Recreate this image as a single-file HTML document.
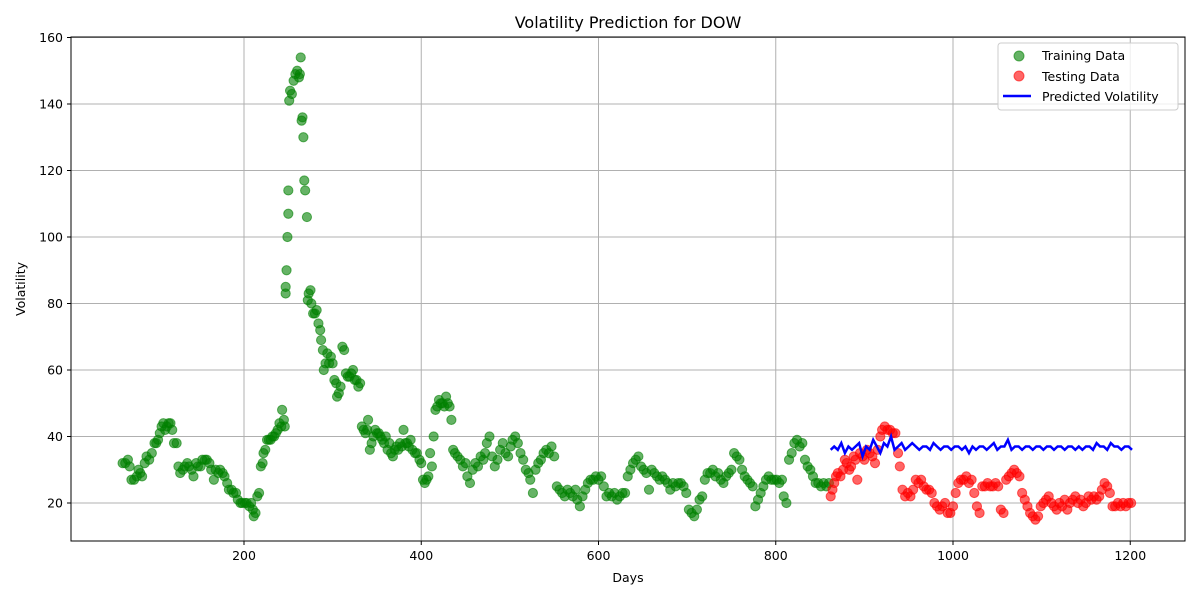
<!DOCTYPE html>
<html><head><meta charset="utf-8"><style>
body{margin:0;background:#fff;}
svg text{font-family:"DejaVu Sans","Liberation Sans",sans-serif;}
</style></head><body>
<svg id="chart" width="1200" height="600" xmlns="http://www.w3.org/2000/svg">
<rect width="1200" height="600" fill="#fff"/>
<g id="grid"></g>
<g id="marks"></g>
<rect x="71" y="37" width="1114" height="504" fill="none" stroke="#000" stroke-width="1"/>
<g id="ticks"></g>
<text x="628" y="28" font-size="16" text-anchor="middle">Volatility Prediction for DOW</text>
<text x="628" y="582" font-size="12.5" text-anchor="middle">Days</text>
<text transform="translate(25,289) rotate(-90)" font-size="12.5" text-anchor="middle">Volatility</text>
<g>
<rect x="998" y="43" width="180" height="67" rx="3" fill="#fff" fill-opacity="0.8" stroke="#ccc"/>
<circle cx="1019" cy="56" r="5" fill="green" fill-opacity="0.6" stroke="green" stroke-opacity="0.6"/>
<text x="1042" y="60" font-size="12.5">Training Data</text>
<circle cx="1019" cy="76" r="5" fill="red" fill-opacity="0.6" stroke="red" stroke-opacity="0.6"/>
<text x="1042" y="81" font-size="12.5">Testing Data</text>
<line x1="1003" y1="96" x2="1031" y2="96" stroke="blue" stroke-width="2.5"/>
<text x="1042" y="101" font-size="12.5">Predicted Volatility</text>
</g>
</svg>
<script>
const xTicks=[200,400,600,800,1000,1200];
const yTicks=[20,40,60,80,100,120,140,160];
const trainDays=[63,66,69,71,73,76,79,81,83,85,88,90,93,96,99,101,103,105,107,109,111,113,115,117,119,121,124,126,128,131,133,136,138,141,143,146,148,151,153,156,158,161,163,166,168,171,173,176,178,181,183,186,188,191,193,196,198,201,203,206,208,210,211,213,215,217,219,221,222,224,226,228,230,232,234,236,238,240,242,243,245,246,247,247,248,249,250,250,251,252,254,256,258,260,262,263,264,265,266,267,268,269,271,272,273,275,276,278,280,282,284,286,287,289,290,292,294,296,298,300,302,304,305,307,309,311,313,315,317,319,321,323,325,327,329,331,333,335,337,339,340,342,344,346,348,350,352,354,356,358,360,362,364,366,368,370,372,374,376,378,380,382,384,386,388,390,393,395,398,400,402,404,406,408,410,412,414,416,418,420,422,424,426,428,430,432,434,436,438,441,444,447,450,452,455,458,461,464,467,470,472,474,477,480,483,486,489,492,495,498,501,503,506,509,512,515,518,521,523,526,529,532,535,538,541,544,547,550,553,556,559,562,565,568,571,574,576,579,582,585,588,591,594,597,600,603,606,609,612,615,618,621,624,627,630,633,636,639,642,645,648,651,654,657,660,663,666,669,672,675,678,681,684,687,690,693,696,699,702,705,708,711,714,717,720,723,726,729,732,735,738,741,744,747,750,753,756,759,762,765,768,771,774,777,780,783,786,789,792,795,798,801,804,807,809,812,815,818,821,824,827,830,833,836,839,842,845,848,851,854,857,860];
const trainVals=[32,32,33,31,27,27,28,30,29,28,32,34,33,35,38,38,39,41,43,44,42,43,44,44,42,38,38,31,29,30,31,32,31,30,28,32,31,31,33,33,33,32,30,27,30,29,30,29,28,26,24,24,23,23,21,20,20,20,20,19,20,18,16,17,22,23,31,32,35,36,39,39,39,40,40,41,42,44,43,48,45,43,83,85,90,100,107,114,141,144,143,147,149,150,148,149,154,135,136,130,117,114,106,81,83,84,80,77,77,78,74,72,69,66,60,62,65,62,64,62,57,56,52,53,55,67,66,59,58,58,59,60,57,57,55,56,43,42,41,42,45,36,38,40,42,41,41,40,39,38,40,36,38,35,34,36,37,36,38,37,42,38,38,37,39,36,35,35,33,32,27,26,27,28,35,31,40,48,49,51,50,50,49,52,50,49,45,36,35,34,33,31,32,28,26,30,32,31,34,33,35,38,40,34,31,33,36,38,35,34,37,39,40,38,35,33,30,29,27,23,30,32,33,35,36,35,37,34,25,24,23,22,24,23,22,24,21,19,22,24,26,27,27,28,27,28,25,22,23,22,23,21,22,23,23,28,30,32,33,34,31,30,29,24,30,29,28,27,28,27,26,24,26,25,26,26,25,23,18,17,16,18,21,22,27,29,29,30,28,29,27,26,28,29,30,35,34,33,30,28,27,26,25,19,21,23,25,27,28,27,27,27,26,27,22,20,33,35,38,39,37,38,33,31,30,28,26,26,25,26,25,26,25];
const testDays=[862,864,866,868,870,873,876,878,880,883,885,888,890,892,895,898,900,903,906,909,912,915,918,920,923,926,929,932,935,938,940,943,946,949,952,955,958,961,964,967,970,973,976,979,982,985,988,991,994,997,1000,1003,1006,1009,1012,1015,1018,1021,1024,1027,1030,1033,1036,1039,1042,1045,1048,1051,1054,1057,1060,1063,1066,1069,1072,1075,1078,1081,1084,1087,1090,1093,1096,1099,1102,1105,1108,1111,1114,1117,1120,1123,1126,1129,1132,1135,1138,1141,1144,1147,1150,1153,1156,1159,1162,1165,1168,1171,1174,1177,1180,1183,1186,1189,1192,1195,1198,1201];
const testVals=[22,24,26,28,29,28,30,33,32,30,31,34,33,27,35,34,33,36,35,34,32,36,40,42,43,42,42,41,41,35,31,24,22,23,22,24,27,26,27,25,24,24,23,20,19,18,19,20,17,17,19,23,26,27,27,28,26,27,23,19,17,25,25,26,25,25,26,25,18,17,27,28,29,30,29,28,23,21,19,17,16,15,16,19,20,21,22,20,19,18,20,19,21,18,20,21,22,20,21,19,20,22,21,22,21,22,24,26,25,23,19,19,20,19,20,19,20,20];
const predStart=862, predStep=4;
const predVals=[36,37,36,38,35,37,36,37,38,34,37,36,39,37,35,38,37,40,36,37,38,36,37,38,37,36,37,37,36,38,37,36,37,37,36,37,37,36,37,35,37,36,37,37,36,37,38,36,37,37,39,36,37,37,36,37,37,36,37,37,36,37,37,36,37,37,36,37,37,36,37,36,37,37,36,38,37,37,36,38,37,37,36,37,37,36];

const NS='http://www.w3.org/2000/svg';
const X=d=>66.75+d*0.88625;
const Y=v=>569.5-v*3.325;
function mk(tag,parent,attrs){const e=document.createElementNS(NS,tag);for(const k in attrs)e.setAttribute(k,attrs[k]);parent.appendChild(e);return e;}
const grid=document.getElementById('grid'),ticks=document.getElementById('ticks'),marks=document.getElementById('marks');
xTicks.forEach(t=>{
  const g=mk('line',grid,{x1:X(t),x2:X(t),y1:37,y2:541,stroke:'#b0b0b0','stroke-width':1});
  
  
  mk('line',ticks,{x1:X(t),x2:X(t),y1:541,y2:545,stroke:'#000'});
  const tx=mk('text',ticks,{x:X(t),y:560,'font-size':12.5,'text-anchor':'middle'});tx.textContent=t;
  
  
});
yTicks.forEach(t=>{
  const g=mk('line',grid,{x1:71,x2:1185,y1:Y(t),y2:Y(t),stroke:'#b0b0b0','stroke-width':1});
  
  
  mk('line',ticks,{x1:67,x2:71,y1:Y(t),y2:Y(t),stroke:'#000'});
  const tx=mk('text',ticks,{x:63,y:Y(t)+4.5,'font-size':12.5,'text-anchor':'end'});tx.textContent=t;
  
  
});
trainDays.forEach((d,i)=>{
  const c=mk('circle',marks,{cx:X(d),cy:Y(trainVals[i]),r:4.6,fill:'green','fill-opacity':0.6,stroke:'green','stroke-opacity':0.6,'stroke-width':1});
  
  
});
testDays.forEach((d,i)=>{
  const c=mk('circle',marks,{cx:X(d),cy:Y(testVals[i]),r:4.6,fill:'red','fill-opacity':0.6,stroke:'red','stroke-opacity':0.6,'stroke-width':1});
  
  
});
const pts=predVals.map((v,i)=>X(predStart+i*predStep).toFixed(1)+','+Y(v).toFixed(1)).join(' ');
const pl=mk('polyline',marks,{points:pts,fill:'none',stroke:'blue','stroke-width':2.5});


</script>
</body></html>
